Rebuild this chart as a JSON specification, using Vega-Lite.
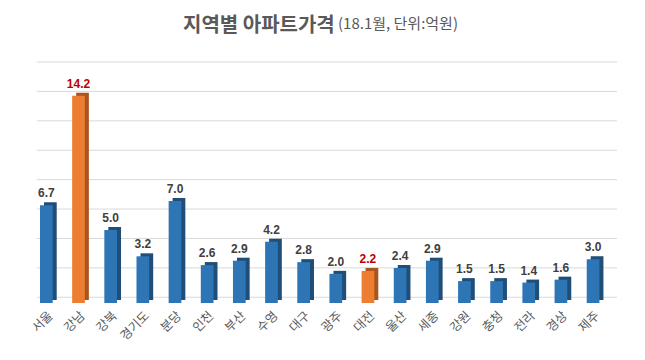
{
  "$schema": "https://vega.github.io/schema/vega-lite/v6.json",
  "width": 580,
  "height": 241,
  "autosize": {"type": "none"},
  "padding": {"left": 37, "top": 62, "right": 28, "bottom": 57},
  "background": "white",
  "config": {"view": {"stroke": null}},
  "title": {
    "text": "지역별 아파트가격",
    "subtitle": "(18.1월, 단위:억원)",
    "anchor": "middle",
    "frame": "group",
    "align": "left",
    "dx": -144,
    "offset": 26,
    "font": "Noto Sans CJK KR",
    "fontSize": 20,
    "fontWeight": "bold",
    "color": "#595959",
    "subtitleFont": "Noto Sans CJK KR",
    "subtitleFontSize": 15,
    "subtitleColor": "#595959",
    "subtitlePadding": -19,
    "encode": {"subtitle": {"update": {"dx": {"value": 11}}}}
  },
  "datasets": {
    "regions": [
      {"region": "서울", "value": 6.7, "group": "일반"},
      {"region": "강남", "value": 14.2, "group": "강조"},
      {"region": "강북", "value": 5.0, "group": "일반"},
      {"region": "경기도", "value": 3.2, "group": "일반"},
      {"region": "분당", "value": 7.0, "group": "일반"},
      {"region": "인천", "value": 2.6, "group": "일반"},
      {"region": "부산", "value": 2.9, "group": "일반"},
      {"region": "수영", "value": 4.2, "group": "일반"},
      {"region": "대구", "value": 2.8, "group": "일반"},
      {"region": "광주", "value": 2.0, "group": "일반"},
      {"region": "대전", "value": 2.2, "group": "강조"},
      {"region": "울산", "value": 2.4, "group": "일반"},
      {"region": "세종", "value": 2.9, "group": "일반"},
      {"region": "강원", "value": 1.5, "group": "일반"},
      {"region": "충청", "value": 1.5, "group": "일반"},
      {"region": "전라", "value": 1.4, "group": "일반"},
      {"region": "경상", "value": 1.6, "group": "일반"},
      {"region": "제주", "value": 3.0, "group": "일반"}
    ],
    "grid": [
      {"v": 0}, {"v": 2}, {"v": 4}, {"v": 6}, {"v": 8},
      {"v": 10}, {"v": 12}, {"v": 14}, {"v": 16}
    ]
  },
  "layer": [
    {
      "data": {"name": "grid"},
      "mark": {"type": "rule", "color": "#d9d9d9", "strokeWidth": 1},
      "encoding": {
        "y": {"field": "v", "type": "quantitative", "scale": {"domain": [-0.39, 16], "nice": false}, "axis": null}
      }
    },
    {
      "data": {"name": "regions"},
      "layer": [
        {
          "mark": {"type": "bar", "xOffset": 4, "yOffset": -3},
          "encoding": {
            "color": {"field": "group", "type": "nominal", "scale": {"domain": ["일반", "강조"], "range": ["#1F4E79", "#A9561E"]}, "legend": null}
          }
        },
        {
          "mark": {"type": "bar"},
          "encoding": {
            "color": {"field": "group", "type": "nominal", "scale": {"domain": ["일반", "강조"], "range": ["#2E75B6", "#ED7D31"]}, "legend": null}
          }
        },
        {
          "mark": {"type": "text", "baseline": "alphabetic", "dy": -8, "font": "Liberation Sans", "fontSize": 12, "fontWeight": "bold"},
          "encoding": {
            "text": {"field": "value", "type": "quantitative", "format": ".1f"},
            "color": {"field": "group", "type": "nominal", "scale": {"domain": ["일반", "강조"], "range": ["#404040", "#C00000"]}, "legend": null}
          }
        }
      ],
      "encoding": {
        "x": {
          "field": "region", "type": "nominal", "sort": null,
          "scale": {"paddingInner": 0.605, "paddingOuter": 0.32, "align": 0.146},
          "axis": {"title": null, "labelAngle": -45, "labelAlign": "right", "labelBaseline": "top", "labelPadding": 6, "labelFont": "Noto Sans CJK KR", "labelFontSize": 12.5, "labelColor": "#595959", "ticks": false, "domain": false, "grid": false}
        },
        "y": {"field": "value", "type": "quantitative", "scale": {"domain": [0, 16.52], "nice": false}, "axis": null}
      },
      "resolve": {"scale": {"color": "independent"}}
    }
  ],
  "resolve": {"scale": {"y": "independent"}}
}
